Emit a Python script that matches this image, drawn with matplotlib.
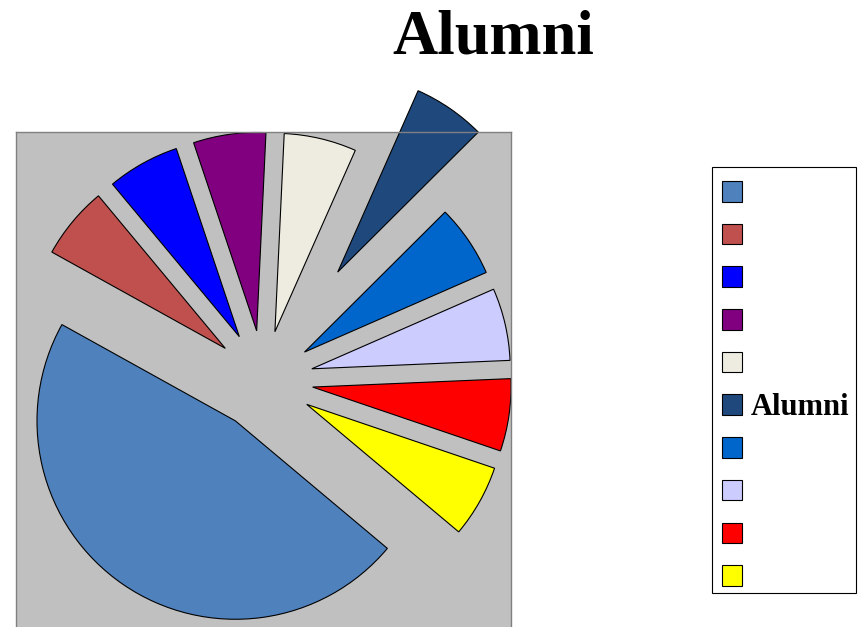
import matplotlib
matplotlib.use("Agg")
import matplotlib.pyplot as plt
from matplotlib.patches import Rectangle

# Data
labels = ["", "", "", "", "", "Alumni", "", "", "", ""]
values = [47.0, 5.9, 5.9, 5.9, 5.9, 5.9, 5.9, 5.9, 5.9, 5.9]
colors = ["#4F81BD", "#C0504D", "#0000FF", "#800080", "#EEECE1",
          "#1F497D", "#0066CC", "#CCCCFF", "#FF0000", "#FFFF00"]
explode = [0.25, 0.25, 0.25, 0.25, 0.25, 0.66, 0.25, 0.25, 0.25, 0.25]
title = "Alumni"

W, H = 861, 627
fig = plt.figure(figsize=(W / 100, H / 100), dpi=100)
fig.patch.set_facecolor("white")

ax = fig.add_axes([15.5 / W, (H - 132 - 496) / H, 496 / W, 496 / H])
wedges, _ = ax.pie(values, colors=colors, explode=explode, startangle=-40,
                   counterclock=False, radius=1.0, frame=True,
                   wedgeprops=dict(edgecolor="black", linewidth=0.8))
for w in wedges:
    w.set_clip_on(False)
ax.set_xlim(-1.25, 1.25)
ax.set_ylim(-1.25, 1.25)
ax.set_facecolor("#C0C0C0")
ax.set_xticks([])
ax.set_yticks([])
for s in ax.spines.values():
    s.set_color("#808080")
    s.set_linewidth(1.0)

fig.text(493 / W, 1 - 53 / H, title, ha="center", va="baseline",
         family="Liberation Serif", fontweight="bold", fontsize=45)

# legend box
fig.patches.append(Rectangle((712 / W, 1 - 593 / H), 144 / W, 426 / H,
                             transform=fig.transFigure, facecolor="white",
                             edgecolor="black", linewidth=0.8, zorder=1))
fs = 22
leg = fig.legend(wedges, labels, loc="upper left",
                 bbox_to_anchor=(722 / W, 1 - 180 / H),
                 bbox_transform=fig.transFigure, borderaxespad=0,
                 prop=dict(family="Liberation Serif", weight="bold", size=fs),
                 handlelength=20 / (fs * 100 / 72), handleheight=20 / (fs * 100 / 72),
                 handletextpad=0.3, borderpad=0, labelspacing=0.448,
                 frameon=False)
leg.set_zorder(2)

fig.savefig("out.png", dpi=100)
